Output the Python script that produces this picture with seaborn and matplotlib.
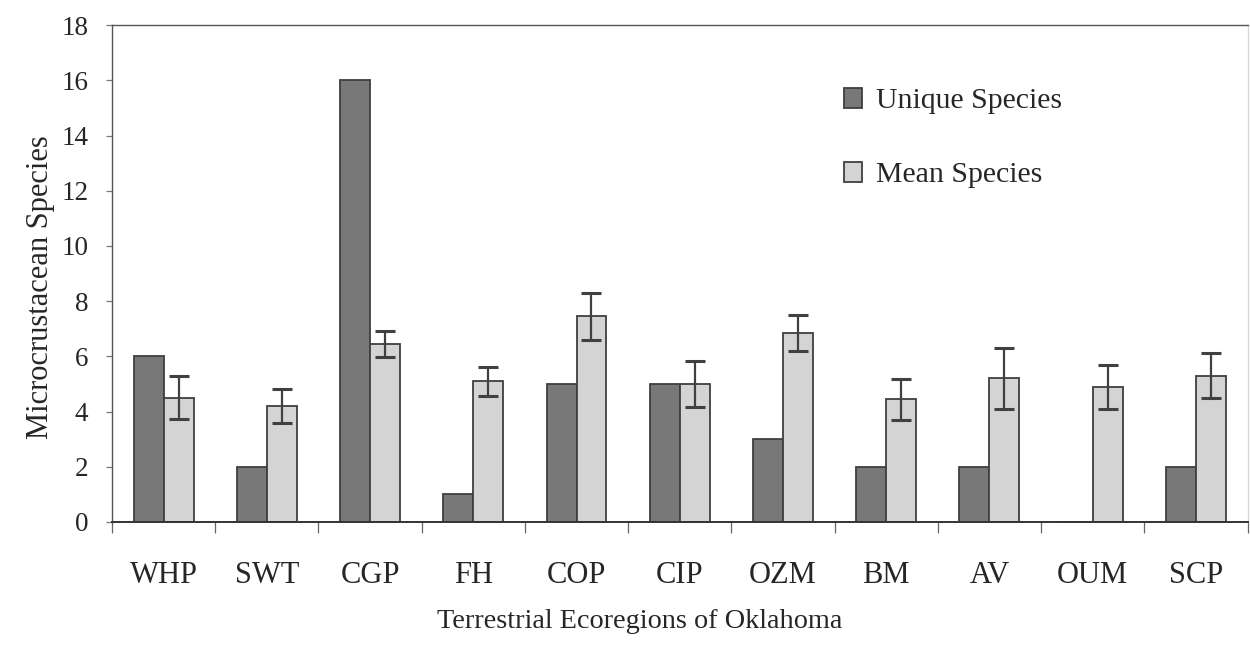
import numpy as np
import pandas as pd
import matplotlib
matplotlib.use("Agg")
import matplotlib.pyplot as plt
import seaborn as sns
from matplotlib.patches import Patch

# Ecoregion codes and per-region values
regions = ["WHP", "SWT", "CGP", "FH", "COP", "CIP", "OZM", "BM", "AV", "OUM", "SCP"]
unique_species = [6, 2, 16, 1, 5, 5, 3, 2, 2, 0, 2]
mean_species = [4.5, 4.2, 6.45, 5.1, 7.45, 5.0, 6.85, 4.45, 5.2, 4.9, 5.3]
mean_err = [0.78, 0.62, 0.47, 0.52, 0.85, 0.85, 0.65, 0.74, 1.1, 0.8, 0.82]
series_names = ["Unique Species", "Mean Species"]

df = pd.DataFrame({
    "region": regions * 2,
    "series": [series_names[0]] * len(regions) + [series_names[1]] * len(regions),
    "value": unique_species + mean_species,
})

sns.set_theme(style="ticks")
plt.rcParams["font.family"] = ["Liberation Serif", "DejaVu Serif"]

dark = "#787878"
light = "#d4d4d4"
edge = "#3f3f3f"
text_col = "#262626"

fig = plt.figure(figsize=(12.5, 6.46), dpi=100)
ax = fig.add_axes([0.0896, 0.192, 0.9084, 0.769])

sns.barplot(data=df, x="region", y="value", hue="series", order=regions,
            hue_order=series_names, palette=[dark, light], width=0.58,
            errorbar=None, edgecolor=edge, linewidth=1.3, saturation=1,
            legend=False, ax=ax)

# Error bars on the mean-species bars, placed at the drawn bar centres
mean_bars = ax.containers[1]
xs = [b.get_x() + b.get_width() / 2 for b in mean_bars]
hs = [b.get_height() for b in mean_bars]
ax.errorbar(xs, hs, yerr=mean_err, fmt="none", ecolor="#404040",
            elinewidth=1.6, capsize=7, capthick=2.2, zorder=5)

ax.set_ylim(0, 18)
ax.set_yticks(np.arange(0, 19, 2))
ax.set_xlim(-0.5, len(regions) - 0.5)

# Category boundary ticks on the x axis, labels without tick marks
ax.set_xticks(np.arange(-0.5, len(regions), 1.0), minor=True)
ax.tick_params(axis="x", which="major", length=0, pad=28, labelsize=22)
ax.tick_params(axis="x", which="minor", length=8, width=0.9, color="#666666",
               direction="out")
ax.tick_params(axis="y", length=4, width=0.9, color="#777777", labelsize=19.5,
               pad=13)

for side in ["left", "top", "bottom"]:
    ax.spines[side].set_visible(True)
    ax.spines[side].set_color("#555555")
    ax.spines[side].set_linewidth(1.0)
ax.spines["right"].set_visible(True)
ax.spines["right"].set_color("#d8d8d8")
ax.spines["right"].set_linewidth(1.0)
ax.spines["bottom"].set_color("#333333")
ax.spines["bottom"].set_linewidth(1.4)

ax.set_xlabel("Terrestrial Ecoregions of Oklahoma", fontsize=20.3,
              color=text_col)
ax.set_ylabel("Microcrustacean Species", fontsize=22, color=text_col)
ax.xaxis.set_label_coords(0.465, -0.175)
ax.yaxis.set_label_coords(-0.05, 0.472)
for lab in ax.get_xticklabels() + ax.get_yticklabels():
    lab.set_color(text_col)

handles = [Patch(facecolor=dark, edgecolor=edge, linewidth=1.3),
           Patch(facecolor=light, edgecolor=edge, linewidth=1.3)]
ax.legend(handles, series_names, loc="upper left",
          bbox_to_anchor=(0.634, 0.897), frameon=False, fontsize=21.5,
          handlelength=0.62, handleheight=0.62, handletextpad=0.45,
          labelspacing=1.6, borderaxespad=0)

fig.savefig("out.png", dpi=100, facecolor="white")
